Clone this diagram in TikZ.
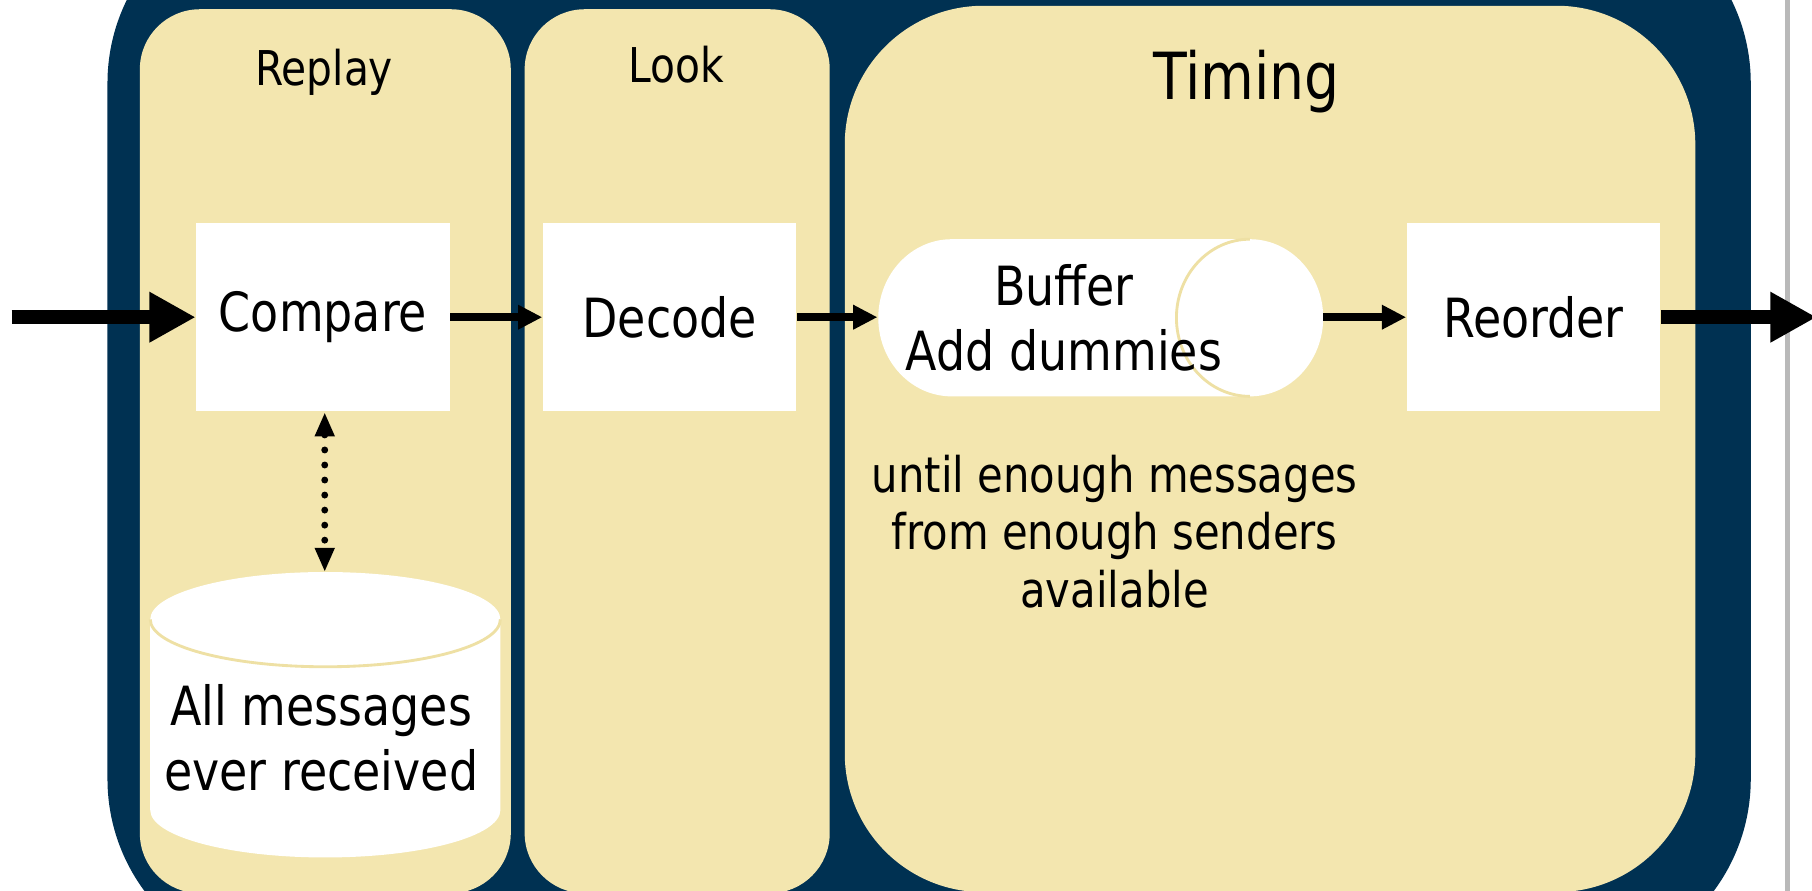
\documentclass[tikz,border=0pt]{standalone}
\usepackage{fontspec}
\setmainfont{DejaVu Sans}[FakeStretch=0.85]
\usetikzlibrary{arrows.meta}
\definecolor{navy}{RGB}{0,49,82}
\definecolor{sand}{RGB}{243,230,175}
\definecolor{rim}{RGB}{238,224,164}

\begin{document}
\begin{tikzpicture}[
  box/.style={fill=white, inner sep=0pt, minimum width=2.19cm, minimum height=1.63cm, font=\fontsize{13.3}{15.6}\selectfont},
  drumtext/.style={inner sep=0pt, align=center, font=\fontsize{13.3}{16}\selectfont},
  lane/.style={fill=sand, rounded corners=0.52cm},
  head/.style={anchor=base, font=\fontsize{11.8}{14}\selectfont},
  flow/.style={line width=2pt, -{Triangle[length=0.21cm, width=0.2cm]}},
  bigflow/.style={line width=3.4pt, -{Triangle[length=0.4cm, width=0.41cm]}}
]
\useasboundingbox (0,0) rectangle (15.68,7.71);
\fill[white] (0,0) rectangle (15.68,7.71);
\draw[gray!55, line width=1.2pt] (15.47,0) -- (15.47,7.71);
\fill[navy, rounded corners=1.63cm] (0.93,8.62) rectangle (15.15,-0.66);
%
\fill[lane] (1.21,7.63) rectangle (4.42,-0.02);
\fill[lane] (4.54,7.63) rectangle (7.18,-0.02);
\fill[lane, rounded corners=1.2cm] (7.31,7.66) rectangle (14.67,-0.01);
%
% buffer drum, lying
\fill[white] (8.235,5.64) -- (10.815,5.64) arc[start angle=90, end angle=-90, x radius=0.635, y radius=0.68]
  -- (8.235,4.28) arc[start angle=270, end angle=90, x radius=0.635, y radius=0.68] -- cycle;
\draw[rim, line width=0.7pt] (10.815,5.64) arc[start angle=90, end angle=270, x radius=0.635, y radius=0.68];
% store drum, standing
\fill[white] (1.30,2.35) -- (1.30,0.70) arc[start angle=180, end angle=360, x radius=1.515, y radius=0.41]
  -- (4.33,2.35) arc[start angle=0, end angle=180, x radius=1.515, y radius=0.41] -- cycle;
\draw[rim, line width=0.7pt] (1.30,2.35) arc[start angle=180, end angle=360, x radius=1.515, y radius=0.41];
%
\node[head] (replay) at (2.805,6.97) {Replay};
\node[head] (look) at (5.855,7.00) {Look};
\node[head, font=\fontsize{16}{19}\selectfont] (timing) at (10.785,6.85) {Timing};
%
\node[box] (cmp) at (2.795,4.965) {Compare};
\node[box] (dec) at (5.795,4.965) {Decode};
\node[box] (ro) at (13.27,4.965) {Reorder};
\node[drumtext, minimum width=3.215cm, minimum height=1.36cm] (buf) at (9.2075,4.96) {Buffer\\Add dummies};
\node[drumtext, font=\fontsize{13.3}{16.2}\selectfont] (db) at (2.78,1.325) {All messages\\ever received};
\node[align=center, font=\fontsize{12.1}{14.2}\selectfont] (wait) at (9.645,3.11) {until enough messages\\from enough senders\\available};
%
\coordinate (in) at (0.10,4.965);
\coordinate (out) at (15.72,4.965);
\coordinate (bufcap) at (11.45,4.965);
\coordinate (dbtop) at (2.81,2.76);
\draw[bigflow] (in) -- (cmp.west);
\draw[flow] (cmp.east) -- (dec.west);
\draw[flow] (dec.east) -- (dec.east -| buf.west);
\draw[flow] (bufcap) -- (ro.west);
\draw[bigflow] (ro.east) -- (out);
\draw[line width=1.7pt, line cap=round, dash pattern=on 0pt off 3.7pt,
  {Triangle[length=0.21cm, width=0.16cm]}-{Triangle[length=0.21cm, width=0.16cm]}]
  (cmp.south -| dbtop) -- (dbtop);
\end{tikzpicture}
\end{document}
